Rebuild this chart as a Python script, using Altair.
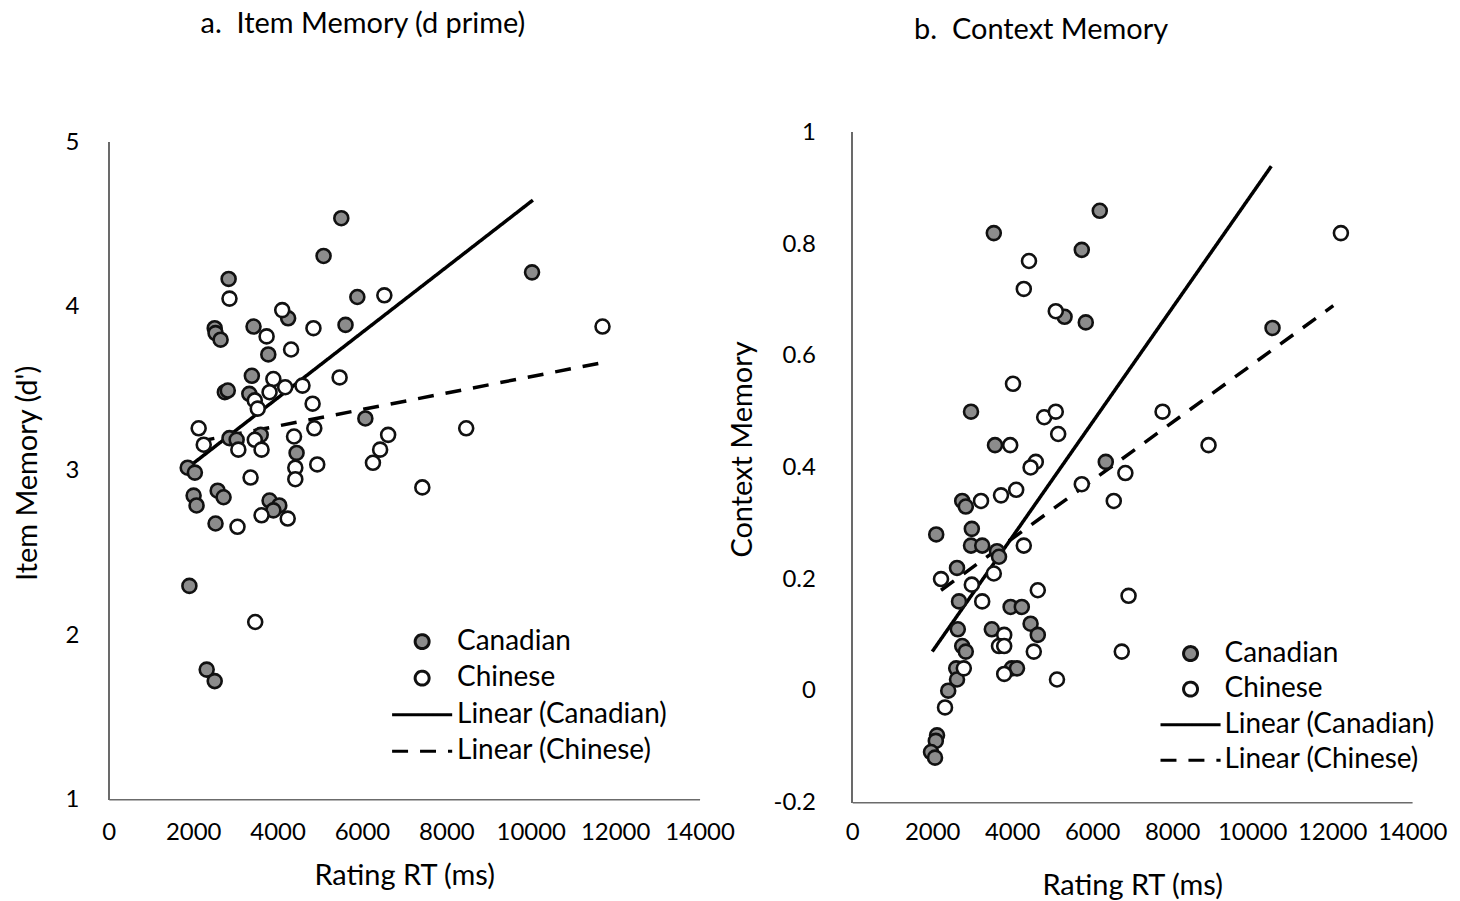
import altair as alt
import pandas as pd

FONT = "Lato"
SERIES = ["Canadian", "Chinese", "Linear (Canadian)", "Linear (Chinese)"]
FILLS = ["#8c8c8c", "#ffffff", "transparent", "transparent"]
STROKES = ["#111111", "#111111", "#000000", "#000000"]
LINE_PATH = "M-4.3,0H4.3"
SHAPES = ["circle", "circle", LINE_PATH, LINE_PATH]
DASHES = [[1, 0], [1, 0], [1, 0], [16, 12]]
X_TICKS = [0, 2000, 4000, 6000, 8000, 10000, 12000, 14000]

# ---------- Panel a: Item memory (d') ----------
a_can_rt = [5510, 5090, 2840, 5890, 4250, 2510, 2530, 2650, 3430, 3780, 5610, 3390,
            2750, 2820, 3330, 6080, 2860, 3030, 3600, 4450, 1870, 2040, 2010, 2080,
            2580, 2720, 3810, 4040, 3900, 2530, 1910, 2320, 2510, 10030]
a_can_d = [4.54, 4.31, 4.17, 4.06, 3.93, 3.87, 3.84, 3.80, 3.88, 3.71, 3.89, 3.58,
           3.48, 3.49, 3.47, 3.32, 3.20, 3.19, 3.22, 3.11, 3.02, 2.99, 2.85, 2.79,
           2.88, 2.84, 2.82, 2.79, 2.76, 2.68, 2.30, 1.79, 1.72, 4.21]
a_chi_rt = [2860, 6530, 4110, 3740, 4850, 4320, 3900, 5470, 4180, 4590, 3810, 3460,
            3530, 4830, 2130, 4870, 2250, 3070, 3460, 3620, 4390, 4420, 4420, 4940,
            6620, 6430, 6260, 7430, 3360, 3620, 4240, 3050, 3470, 11700, 8470]
a_chi_d = [4.05, 4.07, 3.98, 3.82, 3.87, 3.74, 3.56, 3.57, 3.51, 3.52, 3.48, 3.43,
           3.38, 3.41, 3.26, 3.26, 3.16, 3.13, 3.19, 3.13, 3.21, 3.02, 2.95, 3.04,
           3.22, 3.13, 3.05, 2.90, 2.96, 2.73, 2.71, 2.66, 2.08, 3.88, 3.26]
a_fit_can_rt = [1870, 10050]
a_fit_can_d = [3.02, 4.65]
a_fit_chi_rt = [2130, 11700]
a_fit_chi_d = [3.18, 3.66]

# ---------- Panel b: Context memory ----------
b_can_rt = [6190, 3540, 5740, 5310, 5840, 2970, 3570, 6340, 10510, 2750, 2840, 2990,
            2100, 2970, 3250, 3620, 3670, 2620, 2670, 3960, 4240, 4460, 4640, 3490,
            2640, 2750, 2840, 2600, 3990, 4120, 2620, 2400, 2120, 2090, 1970, 2070]
b_can_m = [0.86, 0.82, 0.79, 0.67, 0.66, 0.50, 0.44, 0.41, 0.65, 0.34, 0.33, 0.29,
           0.28, 0.26, 0.26, 0.25, 0.24, 0.22, 0.16, 0.15, 0.15, 0.12, 0.10, 0.11,
           0.11, 0.08, 0.07, 0.04, 0.04, 0.04, 0.02, 0.00, -0.08, -0.09, -0.11, -0.12]
b_chi_rt = [4420, 4290, 5090, 4020, 4800, 5090, 5150, 3950, 4590, 4460, 7760, 6830,
            12220, 8910, 5740, 6540, 3220, 3720, 4100, 4290, 3540, 2220, 2990, 4640,
            6910, 3250, 3800, 3670, 3800, 4540, 6740, 2790, 3800, 5120, 2320]
b_chi_m = [0.77, 0.72, 0.68, 0.55, 0.49, 0.50, 0.46, 0.44, 0.41, 0.40, 0.50, 0.39,
           0.82, 0.44, 0.37, 0.34, 0.34, 0.35, 0.36, 0.26, 0.21, 0.20, 0.19, 0.18,
           0.17, 0.16, 0.10, 0.08, 0.08, 0.07, 0.07, 0.04, 0.03, 0.02, -0.03]
b_fit_can_rt = [2000, 10480]
b_fit_can_m = [0.07, 0.94]
b_fit_chi_rt = [2220, 12030]
b_fit_chi_m = [0.18, 0.69]


def points_df(can_x, can_y, chi_x, chi_y):
    return pd.DataFrame({
        "rt": can_x + chi_x,
        "val": can_y + chi_y,
        "series": ["Canadian"] * len(can_x) + ["Chinese"] * len(chi_x),
    })


def fit_df(cx, cy, hx, hy):
    return pd.DataFrame({
        "rt": cx + hx,
        "val": cy + hy,
        "series": ["Linear (Canadian)"] * len(cx) + ["Linear (Chinese)"] * len(hx),
    })


def panel(pts, fits, ydom, yaxis_top, yvals, ytitle, ytitle_y, ylab_pad, ytitle_pad,
          xlab_pad, xtitle_pad, title, title_dx, title_offset, w, h,
          lx, ly, lab_off, row_pad):
    legend = alt.Legend(
        orient="none", legendX=lx, legendY=ly, title=None,
        labelFont=FONT, labelFontSize=28, labelColor="black", labelOffset=lab_off,
        labelLimit=0, symbolSize=196, symbolStrokeWidth=3, symbolStrokeColor="black",
        rowPadding=row_pad, padding=0,
    )
    xenc = alt.X("rt:Q",
                 scale=alt.Scale(domain=[0, 14000], nice=False, zero=False),
                 axis=alt.Axis(values=X_TICKS, format="d", title="Rating RT (ms)",
                               labelFlush=False, labelOverlap=False,
                               labelPadding=xlab_pad, titlePadding=xtitle_pad))
    yenc = alt.Y("val:Q",
                 scale=alt.Scale(domain=ydom, nice=False, zero=False),
                 axis=alt.Axis(values=yvals, labelExpr="'' + datum.value",
                               title=ytitle, titleY=ytitle_y, domain=False,
                               labelPadding=ylab_pad, titlePadding=ytitle_pad))
    stroke_enc = alt.Stroke("series:N", scale=alt.Scale(domain=SERIES, range=STROKES),
                            legend=legend)
    # y axis line drawn through the y scale, from the lowest to the highest tick
    yline = alt.Chart(pts).mark_rule(color="#6b6b6b", strokeWidth=1.5).encode(
        x=alt.value(0), y=alt.datum(yvals[0]), y2=alt.datum(yaxis_top)
    )
    pts_layer = alt.Chart(pts).mark_point(
        filled=True, shape="circle", size=196, strokeWidth=2.6, opacity=1
    ).encode(
        x=xenc, y=yenc,
        fill=alt.Fill("series:N", scale=alt.Scale(domain=SERIES, range=FILLS), legend=legend),
        shape=alt.Shape("series:N", scale=alt.Scale(domain=SERIES, range=SHAPES), legend=legend),
        stroke=stroke_enc,
    )
    fit_layer = alt.Chart(fits).mark_line(strokeWidth=3.5).encode(
        x=xenc, y=yenc,
        strokeDash=alt.StrokeDash("series:N", scale=alt.Scale(domain=SERIES, range=DASHES),
                                  legend=legend),
        stroke=stroke_enc,
    )
    return alt.layer(yline, fit_layer, pts_layer).properties(
        width=w, height=h,
        title=alt.TitleParams(title, anchor="start", frame="group", dx=title_dx,
                              offset=title_offset, font=FONT, fontSize=29,
                              fontWeight="normal", color="black"),
    )


NB = "\u00a0"
left = panel(points_df(a_can_rt, a_can_d, a_chi_rt, a_chi_d),
             fit_df(a_fit_can_rt, a_fit_can_d, a_fit_chi_rt, a_fit_chi_d),
             [1, 5.061], 5, [1, 2, 3, 4, 5], "Item Memory (d')", 341, 30, 23,
             21, 17, "a." + NB + NB + "Item Memory (d prime)", 92, 92, 592, 668,
             300, 496, 21, 8.6)

right = panel(points_df(b_can_rt, b_can_m, b_chi_rt, b_chi_m),
              fit_df(b_fit_can_rt, b_fit_can_m, b_fit_chi_rt, b_fit_chi_m),
              [-0.2, 1], 1, [-0.2, 0, 0.2, 0.4, 0.6, 0.8, 1], "Context Memory", 317, 37, 16,
              18, 27, "b." + NB + NB + "Context Memory", 62, 76, 561, 671,
              325, 508, 20, 7.6)

chart = alt.hconcat(left, right, spacing=153, bounds="flush").resolve_scale(
    x="independent", y="independent", fill="independent",
    shape="independent", strokeDash="independent", stroke="independent"
).resolve_legend(
    fill="independent", shape="independent", strokeDash="independent", stroke="independent"
).properties(
    padding={"left": 5, "top": 1, "right": 5, "bottom": 0}, background="white"
).configure_view(stroke=None).configure_axis(
    grid=False, ticks=False, domainColor="#6b6b6b", domainWidth=1.5,
    labelFont=FONT, labelFontSize=24, labelColor="black",
    titleFont=FONT, titleFontSize=29, titleFontWeight="normal", titleColor="black",
)

chart.save("out.html", embed_options={"renderer": "svg", "actions": False})
